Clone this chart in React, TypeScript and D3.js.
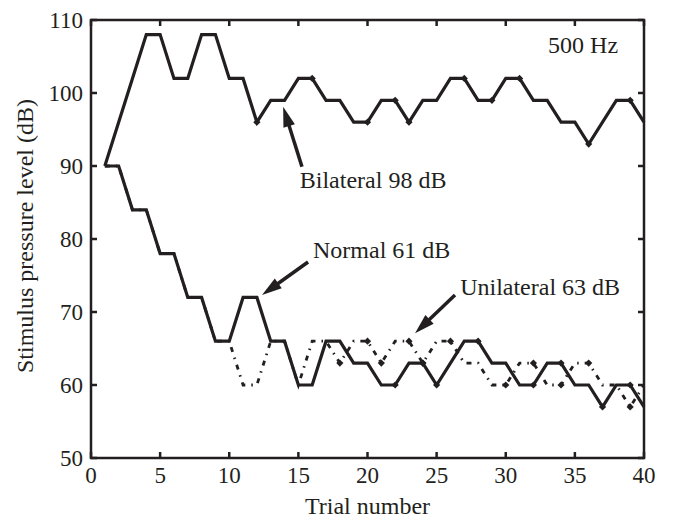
import * as d3 from "d3";
import { useEffect, useRef } from "react";

// trial numbers and levels (dB)
const trials = d3.range(1, 41);
const bilateral = [90, 96, 102, 108, 108, 102, 102, 108, 108, 102, 102, 96, 99, 99, 102, 102, 99, 99, 96, 96,
  99, 99, 96, 99, 99, 102, 102, 99, 99, 102, 102, 99, 99, 96, 96, 93, 96, 99, 99, 96];
const normal = [90, 90, 84, 84, 78, 78, 72, 72, 66, 66, 72, 72, 66, 66, 60, 60, 66, 66, 63, 63,
  60, 60, 63, 63, 60, 63, 66, 66, 63, 63, 60, 60, 63, 63, 60, 60, 57, 60, 60, 57];
const unilateral = [90, 90, 84, 84, 78, 78, 72, 72, 66, 66, 60, 60, 66, 66, 60, 66, 66, 63, 66, 66,
  63, 66, 66, 63, 66, 66, 63, 63, 60, 60, 63, 63, 60, 60, 63, 63, 60, 60, 57, 60];

// trials where reversal markers are drawn
const bilateralMarks = [12, 16, 20, 22, 23, 27, 29, 31, 36, 39];
const normalMarks = [22, 24, 25, 28, 32, 34, 37, 39];
const unilateralMarks = [18, 20, 21, 23, 24, 26, 30, 32, 34, 36, 39];

const xTicks = [0, 5, 10, 15, 20, 25, 30, 35, 40];
const yTicks = [50, 60, 70, 80, 90, 100, 110];

// labels: text position and arrow tail/tip, in data units
const notes = [
  { text: "Bilateral 98 dB", tx: 15.1, ty: 87.0, from: [15.26, 89.9], to: [13.9, 98.1] },
  { text: "Normal 61 dB", tx: 16.06, ty: 77.4, from: [15.7, 76.85], to: [12.37, 72.33] },
  { text: "Unilateral 63 dB", tx: 26.7, ty: 72.3, from: [26.33, 72.33], to: [23.44, 67.1] },
];

const W = 675;
const H = 519;
const margin = { top: 20, right: 31, bottom: 61, left: 91 };
const font = "'Liberation Serif', 'Times New Roman', serif";

export default function App() {
  const svgRef = useRef<SVGSVGElement>(null);

  useEffect(() => {
    const svg = d3.select(svgRef.current);
    svg.selectAll("*").remove();
    const innerW = W - margin.left - margin.right;
    const innerH = H - margin.top - margin.bottom;

    const x = d3.scaleLinear().domain([0, 40]).range([margin.left, margin.left + innerW]);
    const y = d3.scaleLinear().domain([50, 110]).range([margin.top + innerH, margin.top]);

    const g = svg.append("g");

    // series, dash-dot first so the solid ones sit on top
    const line = d3.line<number>().x((_, i) => x(trials[i])).y((d) => y(d));
    const series = [
      { vals: unilateral, marks: unilateralMarks, dash: "5,6,1.5,6", w: 2.8 },
      { vals: normal, marks: normalMarks, dash: null, w: 3.2 },
      { vals: bilateral, marks: bilateralMarks, dash: null, w: 3.2 },
    ];
    const diamond = d3.symbol().type(d3.symbolSquare).size(26);
    series.forEach((s) => {
      g.append("path")
        .attr("d", line(s.vals))
        .attr("fill", "none")
        .attr("stroke", "#231f20")
        .attr("stroke-width", s.w)
        .attr("stroke-linejoin", "miter")
        .attr("stroke-dasharray", s.dash);
      g.selectAll(null)
        .data(s.marks)
        .enter()
        .append("path")
        .attr("d", diamond)
        .attr("transform", (t) => `translate(${x(t)},${y(s.vals[t - 1])}) rotate(45)`)
        .attr("fill", "#231f20");
    });

    // axes box with inward ticks
    const ax = svg.append("g").attr("font-family", font).attr("font-size", 24).attr("fill", "#231f20");
    const tick = 6;
    xTicks.forEach((t) => {
      ax.append("line").attr("x1", x(t)).attr("x2", x(t)).attr("y1", y(50)).attr("y2", y(50) - tick);
      ax.append("line").attr("x1", x(t)).attr("x2", x(t)).attr("y1", y(110)).attr("y2", y(110) + tick);
      ax.append("text").attr("x", x(t)).attr("y", y(50) + 25).attr("font-size", 23)
        .attr("text-anchor", "middle").text(t);
    });
    yTicks.forEach((t) => {
      ax.append("line").attr("x1", x(0)).attr("x2", x(0) + tick).attr("y1", y(t)).attr("y2", y(t));
      ax.append("line").attr("x1", x(40)).attr("x2", x(40) - tick).attr("y1", y(t)).attr("y2", y(t));
      ax.append("text").attr("x", x(0) - 8).attr("y", y(t)).attr("dy", "0.35em").attr("font-size", 23)
        .attr("text-anchor", "end").text(t);
    });
    ax.selectAll("line").attr("stroke", "#231f20").attr("stroke-width", 2.5);
    ax.append("rect")
      .attr("x", x(0)).attr("y", y(110))
      .attr("width", innerW).attr("height", innerH)
      .attr("fill", "none").attr("stroke", "#231f20").attr("stroke-width", 2.5);

    ax.append("text")
      .attr("x", x(20)).attr("y", H - 5)
      .attr("text-anchor", "middle")
      .text("Trial number");
    ax.append("text")
      .attr("transform", `translate(25,236) rotate(-90)`)
      .attr("text-anchor", "middle")
      .attr("dy", "0.35em")
      .text("Stimulus pressure level (dB)");
    ax.append("text").attr("x", x(33.06)).attr("y", y(105.5)).text("500 Hz");

    // annotations with arrows
    notes.forEach((n) => {
      const [x0, y0] = [x(n.from[0]), y(n.from[1])];
      const [x1, y1] = [x(n.to[0]), y(n.to[1])];
      const len = Math.hypot(x1 - x0, y1 - y0);
      const ux = (x1 - x0) / len;
      const uy = (y1 - y0) / len;
      const hl = 20;
      const hw = 6;
      const bx = x1 - ux * hl;
      const by = y1 - uy * hl;
      ax.append("line")
        .attr("x1", x0).attr("y1", y0).attr("x2", bx + ux * 2).attr("y2", by + uy * 2)
        .attr("stroke", "#231f20").attr("stroke-width", 3.5);
      ax.append("path")
        .attr("d", `M${x1},${y1}L${bx - uy * hw},${by + ux * hw}L${bx + uy * hw},${by - ux * hw}Z`)
        .attr("fill", "#231f20");
      ax.append("text").attr("x", x(n.tx)).attr("y", y(n.ty)).text(n.text);
    });
  }, []);

  return (
    <svg
      ref={svgRef}
      width={W}
      height={H}
      viewBox={`0 0 ${W} ${H}`}
      style={{ position: "absolute", left: 0, top: 0, background: "#fff" }}
    />
  );
}
